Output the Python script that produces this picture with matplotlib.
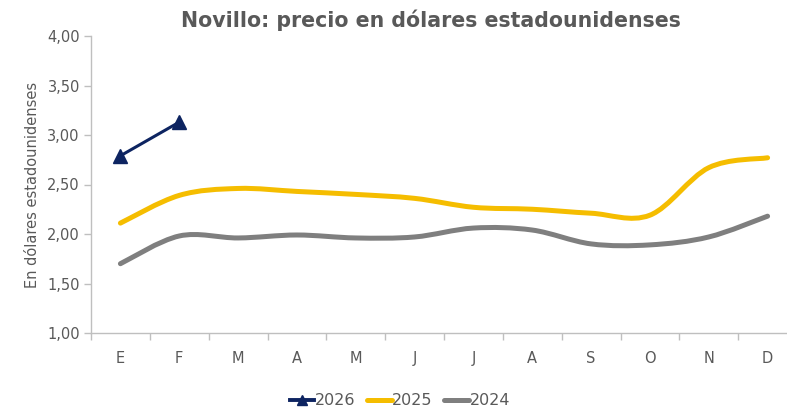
import numpy as np
import matplotlib.pyplot as plt
from matplotlib.path import Path
from matplotlib.patches import PathPatch
from matplotlib.lines import Line2D
from matplotlib.ticker import MultipleLocator, FixedLocator

plt.rcParams['font.family'] = ['DejaVu Sans']

months = ['E', 'F', 'M', 'A', 'M', 'J', 'J', 'A', 'S', 'O', 'N', 'D']
v2026 = [2.79, 3.13]
v2025 = [2.11, 2.39, 2.46, 2.43, 2.40, 2.36, 2.27, 2.25, 2.21, 2.19, 2.67, 2.77]
v2024 = [1.70, 1.98, 1.96, 1.99, 1.96, 1.97, 2.06, 2.04, 1.90, 1.89, 1.97, 2.18]

c2026 = '#0d2461'
c2025 = '#f5bd00'
c2024 = '#7f7f7f'
txt = '#595959'
axc = '#bfbfbf'


def smooth_path(xs, ys):
    # Excel-style smoothed line: cubic bezier segments (catmull-rom tangents)
    pts = np.column_stack([xs, ys]).astype(float)
    n = len(pts)
    verts = [pts[0]]
    codes = [Path.MOVETO]
    for i in range(n - 1):
        p0 = pts[i - 1] if i > 0 else pts[i]
        p1 = pts[i]
        p2 = pts[i + 1]
        p3 = pts[i + 2] if i + 2 < n else pts[i + 1]
        c1 = p1 + (p2 - p0) / 6.0
        c2 = p2 - (p3 - p1) / 6.0
        verts += [c1, c2, p2]
        codes += [Path.CURVE4] * 3
    return Path(verts, codes)


fig = plt.figure(figsize=(7.87, 4.12), dpi=100)
ax = fig.add_axes([91 / 787, 79 / 412, 706 / 787, 297 / 412])

x = np.arange(len(months))
for vals, col in [(v2024, c2024), (v2025, c2025)]:
    patch = PathPatch(smooth_path(x, vals), facecolor='none', edgecolor=col,
                      lw=3.6, capstyle='round', joinstyle='round')
    ax.add_patch(patch)

ax.plot(x[:len(v2026)], v2026, color=c2026, lw=2.2, marker='^', ms=10,
        markerfacecolor=c2026, markeredgecolor=c2026, zorder=5)

ax.set_xlim(-0.5, 11.5)
ax.set_ylim(1.0, 4.0)
ax.yaxis.set_major_locator(MultipleLocator(0.5))
ax.set_yticklabels([f'{v:.2f}'.replace('.', ',') for v in ax.get_yticks()])
ax.set_xticks(x)
ax.set_xticklabels(months)
ax.xaxis.set_minor_locator(FixedLocator(np.arange(-0.5, 12, 1)))
ax.tick_params(axis='x', which='major', length=0, pad=13, labelsize=10.5, labelcolor=txt)
ax.tick_params(axis='x', which='minor', length=5, color=axc, width=1)
ax.tick_params(axis='y', length=5, color=axc, width=1, labelsize=10.5, labelcolor=txt, pad=3)

for s in ['top', 'right']:
    ax.spines[s].set_visible(False)
for s in ['left', 'bottom']:
    ax.spines[s].set_color(axc)
    ax.spines[s].set_linewidth(1)

ax.set_ylabel('En dólares estadounidenses', fontsize=10.5, color=txt, labelpad=5)
fig.text(0.548, 0.952, 'Novillo: precio en dólares estadounidenses', ha='center', va='center',
         fontsize=14.8, fontweight='bold', color=txt)

handles = [
    Line2D([0], [0], color=c2026, lw=2.8, marker='^', ms=7),
    Line2D([0], [0], color=c2025, lw=3.6, solid_capstyle='round'),
    Line2D([0], [0], color=c2024, lw=3.6, solid_capstyle='round'),
]
fig.legend(handles, ['2026', '2025', '2024'], loc='center', bbox_to_anchor=(0.508, 0.027),
           ncol=3, frameon=False, fontsize=11.5, labelcolor=txt, handlelength=1.55,
           handletextpad=0.05, columnspacing=0.7, borderpad=0)

fig.savefig('out.png', dpi=100)
